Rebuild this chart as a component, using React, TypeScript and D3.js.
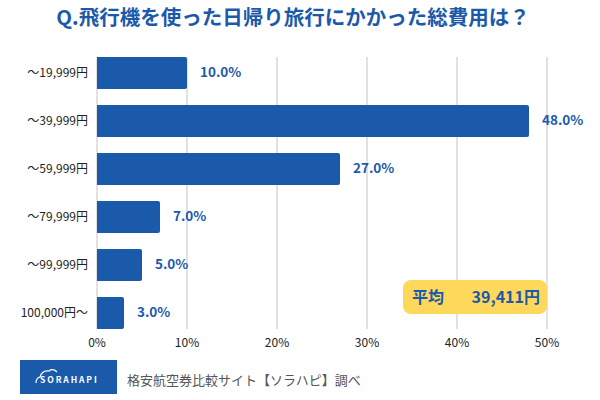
import * as d3 from "d3";
import React from "react";

const title = "Q.飛行機を使った日帰り旅行にかかった総費用は？";
const categories = ["〜19,999円", "〜39,999円", "〜59,999円", "〜79,999円", "〜99,999円", "100,000円〜"];
const shares = [10.0, 48.0, 27.0, 7.0, 5.0, 3.0];
const xTicks = [0, 10, 20, 30, 40, 50];
const averageLabel = "平均";
const averageValue = "39,411円";
const sourceText = "格安航空券比較サイト【ソラハピ】調べ";
const logoText = "SORAHAPI";

const blue = "#1b5aab";
const font = "'Noto Sans CJK JP', 'Noto Sans', sans-serif";

export default function App() {
  const x = d3.scaleLinear().domain([0, 50]).range([97, 547]);
  const y = d3
    .scaleBand<string>()
    .domain(categories)
    .range([49, 337])
    .paddingInner(1 / 3)
    .paddingOuter(1 / 6);

  const top = y(categories[0])!;
  const bottom = y(categories[categories.length - 1])! + y.bandwidth();

  return (
    <svg
      width={600}
      height={400}
      style={{ position: "absolute", left: 0, top: 0, background: "#fff" }}
      fontFamily={font}
    >
      <rect width={600} height={400} fill="#fff" />
      <text x={293} y={25} textAnchor="middle" fontSize={20.5} fontWeight="bold" fill={blue}>
        {title}
      </text>

      {/* grid */}
      {xTicks.map((t) => (
        <g key={t}>
          <line x1={x(t)} x2={x(t)} y1={top} y2={bottom} stroke="#cfcfcf" strokeWidth={1.2} />
          <text x={x(t)} y={347} textAnchor="middle" fontSize={12} fill="#222">
            {t}%
          </text>
        </g>
      ))}

      {/* bars */}
      {categories.map((c, i) => {
        const y0 = y(c)!;
        const w = x(shares[i]) - x(0);
        return (
          <g key={c}>
            <path
              d={`M${x(0)},${y0}H${x(0) + w - 2}q2,0 2,2V${y0 + y.bandwidth() - 2}q0,2 -2,2H${x(0)}Z`}
              fill={blue}
            />
            <text x={88} y={y0 + y.bandwidth() / 2} dy="0.35em" textAnchor="end" fontSize={12} fill="#222">
              {c}
            </text>
            <text
              x={x(shares[i]) + 13}
              y={y0 + y.bandwidth() / 2 - 1}
              dy="0.35em"
              fontSize={13.5}
              fontWeight="bold"
              fill={blue}
            >
              {shares[i].toFixed(1)}%
            </text>
          </g>
        );
      })}

      {/* average */}
      <rect x={403} y={280} width={144} height={34} rx={8} fill="#fdd85a" />
      <text x={412} y={302.5} fontSize={16} fontWeight="bold" fill={blue}>
        {averageLabel}
      </text>
      <text x={540} y={302.5} textAnchor="end" fontSize={16} fontWeight="bold" fill={blue}>
        {averageValue}
      </text>

      {/* source */}
      <rect x={20} y={360} width={97} height={34} fill={blue} />
      <path
        d="M36,383 q0,-5 4,-6 q2,-7 9,-6 q4,-3 8,1"
        fill="none"
        stroke="#fff"
        strokeWidth={1.2}
      />
      <text x={40} y={383} fontSize={8.5} fontWeight="bold" fill="#fff" letterSpacing={1.9}>
        {logoText}
      </text>
      <text x={127} y={385} fontSize={13} fill="#555">
        {sourceText}
      </text>
    </svg>
  );
}
